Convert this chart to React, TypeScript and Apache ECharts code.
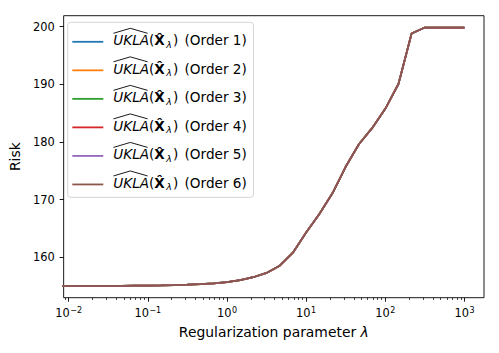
import React, { useEffect, useRef } from "react";
import * as echarts from "echarts";

// Regularization parameter values (x) and the risk curve (y), shared by all six orders
const lambdas = [
  0.0068, 0.01, 0.0147, 0.0215, 0.0316, 0.0464, 0.0681,
  0.1, 0.147, 0.215, 0.316, 0.464, 0.681,
  1, 1.47, 2.15, 3.16, 4.64, 6.81,
  10, 14.7, 21.5, 31.6, 46.4, 68.1,
  100, 147, 215, 316, 464, 681,
  1000,
];
const riskOrder1 = [
  155.02, 155.02, 155.03, 155.04, 155.05, 155.06, 155.08,
  155.1, 155.13, 155.18, 155.25, 155.35, 155.5,
  155.72, 156.05, 156.55, 157.3, 158.55, 160.8,
  164.3, 167.5, 171.1, 175.7, 179.6, 182.4,
  185.75, 190.1, 198.8, 199.85, 199.85, 199.85,
  199.85,
];
const riskOrder2 = riskOrder1.slice();
const riskOrder3 = riskOrder1.slice();
const riskOrder4 = riskOrder1.slice();
const riskOrder5 = riskOrder1.slice();
const riskOrder6 = riskOrder1.slice();
const riskByOrder = [riskOrder1, riskOrder2, riskOrder3, riskOrder4, riskOrder5, riskOrder6];
const orders = [1, 2, 3, 4, 5, 6];
const colors = ["#1f77b4", "#ff7f0e", "#2ca02c", "#d62728", "#9467bd", "#8c564b"];

// Axis ticks
const xMajorExps = [-2, -1, 0, 1, 2, 3];
const yTicks = [160, 170, 180, 190, 200];
const X_MIN = -2.063;
const X_MAX = 3.247;
const Y_MIN = 153.0;
const Y_MAX = 201.9;

const FONT = "DejaVu Sans";

function minorTickExps(): number[] {
  const out: number[] = [];
  for (let d = -3; d <= 3; d++) {
    for (let k = 2; k <= 9; k++) {
      const v = Math.log10(k) + d;
      if (v >= X_MIN && v <= X_MAX) out.push(v);
    }
  }
  return out;
}

const hatW = 40.75;
const hatH = 29;
const hatSvg =
  `<svg xmlns="http://www.w3.org/2000/svg" width="${hatW}" height="${hatH}" viewBox="0 0 ${hatW} ${hatH}" preserveAspectRatio="none">` +
  `<polyline points="5.2,6.1 22,1.2 39.3,6.1" fill="none" stroke="#000" stroke-width="0.9"/></svg>`;
const hatUrl = "data:image/svg+xml;charset=utf-8," + encodeURIComponent(hatSvg);

export default function App() {
  const ref = useRef<HTMLDivElement>(null);
  useEffect(() => {
    if (!ref.current) return;
    const chart = echarts.init(ref.current, undefined, { renderer: "svg" });
    const names = orders.map((o) => `Order ${o}`);
    const sup = (v: number) => (v < 0 ? "\u2212" + -v : String(v));
    const option: any = {
      animation: false,
      textStyle: { fontFamily: FONT },
      grid: {
        left: 61,
        top: 15.7,
        width: 423,
        height: 282,
        show: true,
        borderColor: "#000",
        borderWidth: 0.9,
        backgroundColor: "transparent",
      },
      legend: {
        orient: "vertical",
        left: 67.7,
        top: 22.3,
        padding: [4.8, 6.7, -1.8, 4.6],
        icon: "rect",
        itemWidth: 31,
        itemHeight: 1.8,
        itemGap: -0.87,
        backgroundColor: "rgba(255,255,255,0.8)",
        borderColor: "#d5d5d5",
        borderWidth: 1,
        borderRadius: 3,
        selectedMode: false,
        data: names,
        formatter: (name: string) => {
          const n = name.replace("Order ", "");
          return `{u|UKLA}{p|(}{x|X\u0302}{s|\u03bb}{p|)}{o| (Order ${n})}`;
        },
        textStyle: {
          fontFamily: FONT,
          fontSize: 13.6,
          color: "#000",
          rich: {
            u: {
              fontFamily: FONT,
              fontSize: 13.6,
              fontStyle: "italic",
              color: "#000",
              padding: [6, 0, 9.4, 5],
              backgroundColor: { image: hatUrl },
            },
            p: { fontFamily: FONT, fontSize: 13.6, color: "#000", padding: [0, 0, 3.4, 0] },
            x: {
              fontFamily: FONT,
              fontSize: 13.6,
              fontWeight: "bold",
              color: "#000",
              padding: [0, 0, 3.4, 0],
            },
            s: {
              fontFamily: FONT,
              fontSize: 9.5,
              fontStyle: "italic",
              color: "#000",
              padding: [5, 1, 0, 1.5],
            },
            o: { fontFamily: FONT, fontSize: 13.6, color: "#000", padding: [0, 0, 3.4, 2] },
          },
        },
      },
      xAxis: [
        {
          type: "value",
          position: "bottom",
          min: X_MIN,
          max: X_MAX,
          axisLine: { show: false, onZero: false },
          splitLine: { show: false },
          axisTick: { customValues: xMajorExps, length: 4, lineStyle: { color: "#000", width: 0.9 } },
          axisLabel: {
            customValues: xMajorExps,
            margin: 8.5,
            formatter: (v: number) => `{b|10}{e|${sup(v)}}`,
            rich: {
              b: { fontFamily: FONT, fontSize: 11.4, color: "#000" },
              e: { fontFamily: FONT, fontSize: 8, color: "#000", padding: [0, 0, 6, 0.5] },
            },
          },
          name: "Regularization parameter {i|\u03bb}",
          nameLocation: "middle",
          nameGap: 27,
          nameTextStyle: {
            fontFamily: FONT,
            fontSize: 13.9,
            color: "#000",
            rich: { i: { fontFamily: FONT, fontSize: 13.9, fontStyle: "italic", color: "#000" } },
          },
        },
        {
          type: "value",
          position: "bottom",
          min: X_MIN,
          max: X_MAX,
          axisLine: { show: false, onZero: false },
          splitLine: { show: false },
          axisLabel: { show: false },
          axisTick: { customValues: minorTickExps(), length: 2.3, lineStyle: { color: "#000", width: 0.7 } },
        },
      ],
      yAxis: {
        type: "value",
        min: Y_MIN,
        max: Y_MAX,
        axisLine: { show: false, onZero: false },
        splitLine: { show: false },
        axisTick: { customValues: yTicks, length: 4, lineStyle: { color: "#000", width: 0.9 } },
        axisLabel: { customValues: yTicks, margin: 9, fontFamily: FONT, fontSize: 11.4, color: "#000" },
        name: "Risk",
        nameLocation: "middle",
        nameGap: 37,
        nameTextStyle: { fontFamily: FONT, fontSize: 13.9, color: "#000" },
      },
      series: orders.map((o, i) => ({
        name: names[i],
        type: "line",
        xAxisIndex: 0,
        symbol: "none",
        showSymbol: false,
        color: colors[i],
        lineStyle: { color: colors[i], width: 1.75 },
        data: lambdas.map((l, j) => [Math.log10(l), riskByOrder[i][j]]),
      })),
    };
    chart.setOption(option);
    return () => chart.dispose();
  }, []);
  return (
    <div
      ref={ref}
      style={{ position: "fixed", left: 0, top: 0, width: 499, height: 353, background: "#fff" }}
    />
  );
}
